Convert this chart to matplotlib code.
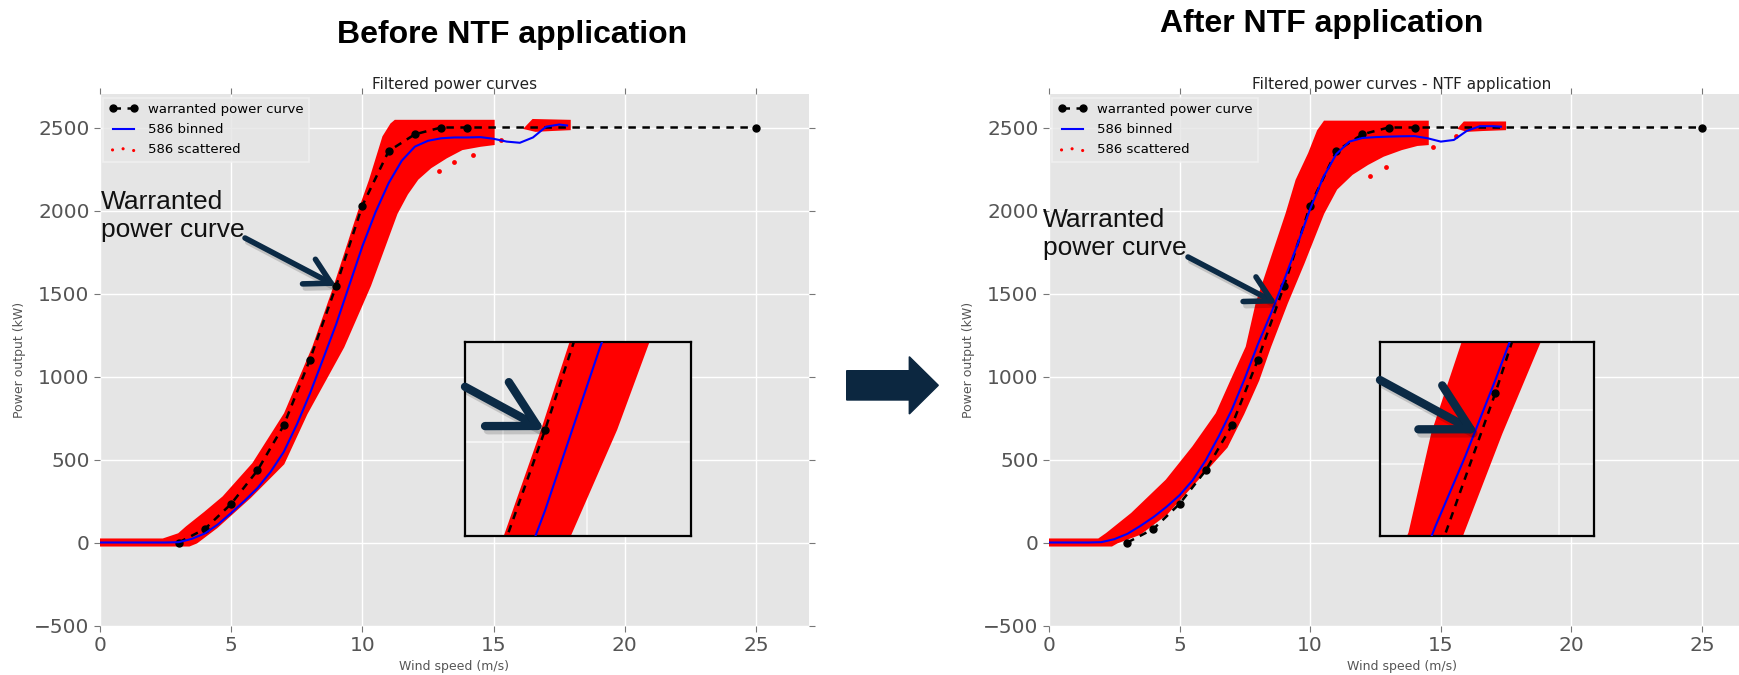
import matplotlib.pyplot as plt
import matplotlib.patheffects as pe
from matplotlib.patches import Polygon

W, H = 1739, 675

# warranted power curve (identical in both panels)
warr_ws = [3, 4, 5, 6, 7, 8, 9, 10, 11, 12, 13, 14, 25]
warr_kw = [0, 82, 233, 434, 705, 1102, 1546, 2030, 2358, 2459, 2500, 2500, 2500]

# 586 binned - before NTF
bin_ws_before = [0, 0.5, 1, 1.5, 2, 2.5, 3, 3.5, 4, 4.5, 5, 5.5, 6, 6.5, 7, 7.5, 8, 8.5, 9,
                 9.5, 10, 10.5, 11, 11.5, 12, 12.5, 13, 13.5, 14, 14.5, 15, 15.5, 16, 16.5,
                 17, 17.5, 17.8]
bin_kw_before = [0, 0, 0, 0, 0, 0, 2, 22, 55, 110, 178, 250, 328, 425, 545, 710, 897, 1105, 1315,
                 1550, 1785, 1990, 2165, 2300, 2385, 2420, 2435, 2440, 2440, 2442, 2432, 2415, 2408, 2440,
                 2505, 2518, 2512]

# 586 binned - after NTF
bin_ws_after = [0, 0.5, 1, 1.5, 2, 2.5, 3, 3.5, 4, 4.5, 5, 5.5, 6, 6.5, 7, 7.5, 8, 8.5, 9,
                9.5, 10, 10.5, 11, 11.5, 12, 12.5, 13, 13.5, 14, 14.5, 15, 15.5, 16, 16.5,
                17, 17.3]
bin_kw_after = [0, 0, 0, 0, 2, 20, 52, 100, 153, 215, 285, 375, 495, 640, 800, 990, 1195, 1380, 1580,
                1790, 2010, 2200, 2340, 2415, 2437, 2442, 2445, 2447, 2448, 2435, 2415, 2425, 2480, 2508,
                2508, 2505]

# 586 scattered - outline of the dense point cloud, before NTF
band_x_before = [0, 2.4, 3.0, 3.3, 4.0, 4.7, 5.84, 7.05, 8.13, 8.95, 9.84, 10.29, 10.8, 11.1, 11.25,
                 15.0, 15.0, 14.5, 13.8, 13.2, 12.6, 12.1, 11.7, 11.3, 10.29, 9.27, 7.87, 6.99, 5.72,
                 4.45, 3.68, 3.4, 0]
band_y_before = [18, 18, 50, 92, 180, 273, 475, 776, 1178, 1548, 1982, 2183, 2444, 2520, 2540,
                 2540, 2400, 2390, 2370, 2320, 2260, 2190, 2100, 1982, 1548, 1178, 776, 475, 273,
                 92, 0, -18, -18]
blob_x_before = [16.2, 16.5, 17.9, 17.9, 17.2, 16.6]
blob_y_before = [2495, 2545, 2540, 2490, 2485, 2480]
dots_x_before = [13.5, 14.2, 15.3, 12.9]
dots_y_before = [2290, 2335, 2425, 2235]

# 586 scattered - outline, after NTF
band_x_after = [0, 1.9, 2.21, 3.17, 4.5, 5.52, 6.42, 6.99, 7.57, 7.95, 8.46, 9.1, 9.48, 9.96, 10.3,
                10.55, 14.5, 14.5, 14.1, 13.5, 12.8, 12.2, 11.6, 11.0, 10.5, 9.74, 9.1, 8.46, 8.01,
                7.44, 6.8, 5.65, 4.5, 3.48, 2.6, 2.4, 0]
band_y_after = [18, 18, 52, 173, 374, 575, 776, 977, 1178, 1440, 1681, 1983, 2183, 2344, 2480,
                2535, 2535, 2400, 2395, 2370, 2330, 2280, 2220, 2130, 1983, 1681, 1440, 1178, 977,
                776, 575, 374, 173, 52, 0, -18, -18]
blob_x_after = [15.7, 15.9, 17.46, 17.46, 16.6, 16.0]
blob_y_after = [2495, 2530, 2530, 2490, 2485, 2480]
dots_x_after = [12.3, 12.9, 14.7, 15.6]
dots_y_after = [2210, 2265, 2385, 2450]

ARROW = '#0B2A45'
GRID_BG = '#E5E5E5'
SHADOW = [pe.SimpleLineShadow(offset=(2, -3), shadow_color='black', alpha=0.15), pe.Normal()]


def fig_rect(x0, y0, x1, y1):
    # pixel box (y measured from top) -> figure fraction rect
    return [x0 / W, (H - y1) / H, (x1 - x0) / W, (y1 - y0) / H]


def draw_data(ax, bin_ws, bin_kw, band_x, band_y, blob_x, blob_y, dots_x, dots_y):
    ax.fill(band_x, band_y, color='red', ec='red', lw=1.5, zorder=2)
    ax.fill(blob_x, blob_y, color='red', ec='red', lw=1.5, zorder=2)
    ax.scatter(dots_x, dots_y, s=12, color='red', lw=0, zorder=2)
    h1, = ax.plot(warr_ws, warr_kw, color='black', ls=(0, (3, 2.6)), lw=1.8,
                  marker='o', ms=5, zorder=3, label='warranted power curve')
    h2, = ax.plot(bin_ws, bin_kw, color='blue', lw=1.5, zorder=4, label='586 binned')
    h3 = ax.scatter([], [], s=5, color='red', lw=0, label='586 scattered')
    return [h1, h2, h3]


def style_main(ax, title):
    ax.set_facecolor(GRID_BG)
    for s in ax.spines.values():
        s.set_visible(False)
    ax.grid(True, color='white', lw=1)
    ax.set_axisbelow(True)
    ax.set_xlim(0, 27)
    ax.set_ylim(-500, 2700)
    ax.set_xticks([0, 5, 10, 15, 20, 25])
    ax.set_yticks([-500, 0, 500, 1000, 1500, 2000, 2500])
    ax.tick_params(labelsize=14.5, labelcolor='#555555', color='#777777',
                   direction='out', length=4, top=True, right=True)
    ax.set_title(title, fontsize=11, color='#222222', pad=4)
    ax.set_xlabel('Wind speed (m/s)', fontsize=9, color='#555555', labelpad=4)
    ax.set_ylabel('Power output (kW)', fontsize=9, color='#555555', labelpad=6)


def style_inset(ax, xlim, ylim, xgrid, ygrid):
    ax.set_facecolor(GRID_BG)
    ax.set_xlim(*xlim)
    ax.set_ylim(*ylim)
    ax.set_xticks(xgrid)
    ax.set_yticks(ygrid)
    ax.grid(True, color='#F4F4F4', lw=1.5)
    ax.set_axisbelow(True)
    ax.tick_params(length=0, labelleft=False, labelbottom=False)
    for s in ax.spines.values():
        s.set_color('black')
        s.set_linewidth(1.6)


fig = plt.figure(figsize=(W / 100, H / 100), dpi=100)

panels = [
    dict(rect=fig_rect(100, 94.3, 808.5, 625.5), bins=(bin_ws_before, bin_kw_before),
         band=(band_x_before, band_y_before), blob=(blob_x_before, blob_y_before),
         dots=(dots_x_before, dots_y_before), title='Filtered power curves',
         big='Before NTF application', big_xy=(512, 35),
         text_xy=(101, 190), arrow_from=(245, 238), tip=(9.0, 1546),
         inset=fig_rect(465, 342.3, 690.7, 535.7), ilim=((7.55, 11.64), (1243, 1798)),
         igrid=([8.24, 9.76], [1511]), iarrow=((0.0, 0.77), (0.354, 0.546))),
    dict(rect=fig_rect(1049, 94.3, 1754.2, 625.5), bins=(bin_ws_after, bin_kw_after),
         band=(band_x_after, band_y_after), blob=(blob_x_after, blob_y_after),
         dots=(dots_x_after, dots_y_after), title='Filtered power curves - NTF application',
         big='After NTF application', big_xy=(1322, 24),
         text_xy=(1043, 208), arrow_from=(1188, 257), tip=(8.72, 1440),
         inset=fig_rect(1380, 342.3, 1594, 535.7), ilim=((7.08, 10.64), (1171, 1678.6)),
         igrid=([8.1, 10.05], [1500, 1360]), iarrow=((0.0, 0.805), (0.459, 0.529))),
]

for p in panels:
    ax = fig.add_axes(p['rect'])
    handles = draw_data(ax, *p['bins'], *p['band'], *p['blob'], *p['dots'])
    style_main(ax, p['title'])
    leg = ax.legend(handles=handles, loc='upper left', fontsize=9.5, numpoints=2,
                    scatterpoints=3, borderaxespad=0.25, handlelength=2.2,
                    frameon=True, fancybox=False, labelspacing=0.55)
    leg.get_frame().set_facecolor(GRID_BG)
    leg.get_frame().set_edgecolor('#F2F2F2')
    leg.get_frame().set_linewidth(1.2)

    # big panel heading
    fig.text(p['big_xy'][0] / W, 1 - p['big_xy'][1] / H, p['big'], ha='center', va='center',
             fontsize=23, fontweight='bold', family='Liberation Sans')

    # "Warranted power curve" callout
    fig.text(p['text_xy'][0] / W, 1 - p['text_xy'][1] / H, 'Warranted\npower curve',
             ha='left', va='top', fontsize=19, family='Liberation Sans', color='#111111',
             zorder=10)
    ann = ax.annotate('', xy=p['tip'], xycoords='data',
                      xytext=(p['arrow_from'][0], H - p['arrow_from'][1]),
                      textcoords='figure pixels',
                      arrowprops=dict(arrowstyle='->,head_length=0.9,head_width=0.5', lw=4,
                                      color=ARROW, mutation_scale=20, shrinkA=0, shrinkB=0,
                                      capstyle='round', joinstyle='round'),
                      annotation_clip=False, zorder=10)
    ann.arrow_patch.set_path_effects(SHADOW)

    # zoomed inset
    axi = fig.add_axes(p['inset'])
    draw_data(axi, *p['bins'], *p['band'], *p['blob'], *p['dots'])
    style_inset(axi, *p['ilim'], *p['igrid'])
    ann = axi.annotate('', xy=p['iarrow'][1], xycoords='axes fraction',
                       xytext=p['iarrow'][0], textcoords='axes fraction',
                       arrowprops=dict(arrowstyle='->,head_length=1.1,head_width=0.6', lw=6,
                                       color=ARROW, mutation_scale=30, shrinkA=0, shrinkB=0,
                                       capstyle='round', joinstyle='round'),
                       zorder=10)
    ann.arrow_patch.set_path_effects(SHADOW)

# block arrow between the two panels
arrow_px = [(846.7, 370.7), (909.3, 370.7), (909.3, 356.7), (938.3, 385.3),
            (909.3, 414), (909.3, 400), (846.7, 400)]
fig.patches.append(Polygon([(x / W, 1 - y / H) for x, y in arrow_px], closed=True,
                           transform=fig.transFigure, color='#0C2740'))

fig.savefig('out.png', dpi=100)
